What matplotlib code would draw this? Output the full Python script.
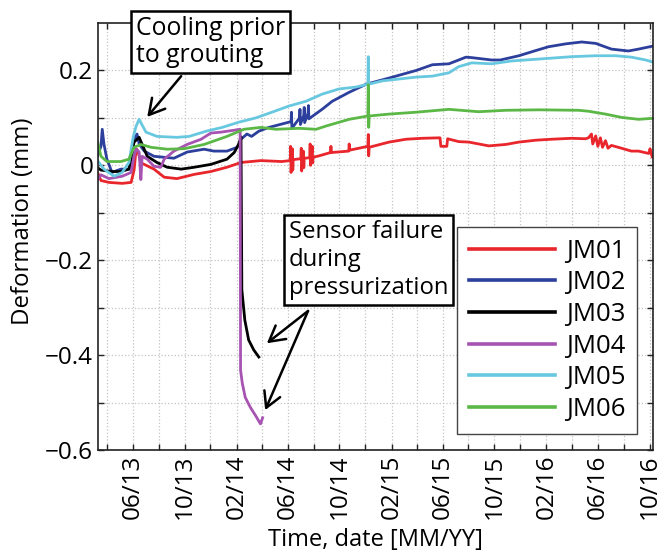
import matplotlib
matplotlib.use("Agg")
import matplotlib.pyplot as plt
import matplotlib.dates as mdates
import matplotlib.ticker as mticker
import pandas as pd

plt.rcParams['font.family'] = ['Open Sans', 'DejaVu Sans']

# ---- joint meter readings (deformation in mm) ----
jm01_dates = ["2013-03-10", "2013-03-18", "2013-04-06", "2013-05-07", "2013-05-28", "2013-06-04",
              "2013-06-09", "2013-06-13", "2013-06-20", "2013-06-28", "2013-07-21", "2013-08-14",
              "2013-09-13", "2013-10-24", "2013-12-02", "2014-01-09", "2014-02-11", "2014-03-30",
              "2014-05-18", "2014-06-07", "2014-06-08", "2014-06-09", "2014-06-12", "2014-06-13",
              "2014-06-14", "2014-07-02", "2014-07-03", "2014-07-04", "2014-07-08", "2014-07-09",
              "2014-07-10", "2014-07-23", "2014-07-24", "2014-07-25", "2014-07-29", "2014-07-30",
              "2014-07-31", "2014-08-14", "2014-09-10", "2014-09-11", "2014-09-12", "2014-10-23",
              "2014-10-24", "2014-10-25", "2014-12-07", "2014-12-08", "2014-12-09", "2014-12-10",
              "2015-01-26", "2015-03-07", "2015-04-14", "2015-05-26", "2015-05-28", "2015-06-11",
              "2015-06-13", "2015-07-09", "2015-08-02", "2015-09-18", "2015-10-28", "2015-11-28",
              "2016-01-07", "2016-02-13", "2016-03-31", "2016-05-03", "2016-05-10", "2016-05-17",
              "2016-05-20", "2016-05-27", "2016-06-01", "2016-06-07", "2016-06-12", "2016-06-19",
              "2016-06-25", "2016-07-03", "2016-07-27", "2016-08-19", "2016-09-05", "2016-09-29",
              "2016-10-02", "2016-10-07"]
jm01_vals = [-0.015, -0.032, -0.036, -0.038, -0.036, -0.010,
             0.035, 0.030, 0.005, 0.002, -0.008, -0.025,
             -0.028, -0.019, -0.013, -0.004, 0.006, 0.010,
             0.008, 0.010, 0.040, -0.015, 0.035, -0.010,
             0.012, 0.014, 0.036, -0.012, 0.030, -0.005,
             0.015, 0.016, 0.045, 0.000, 0.040, 0.005,
             0.017, 0.020, 0.027, 0.040, 0.027, 0.030,
             0.045, 0.032, 0.040, 0.065, 0.020, 0.038,
             0.049, 0.055, 0.057, 0.058, 0.040, 0.040,
             0.056, 0.050, 0.049, 0.041, 0.044, 0.049,
             0.053, 0.055, 0.057, 0.056, 0.058, 0.066,
             0.045, 0.062, 0.040, 0.058, 0.038, 0.052,
             0.036, 0.042, 0.036, 0.030, 0.030, 0.025,
             0.035, 0.018]

jm02_dates = ["2013-03-10", "2013-03-18", "2013-03-21", "2013-03-25", "2013-04-01", "2013-04-13",
              "2013-05-04", "2013-05-23", "2013-05-28", "2013-06-04", "2013-06-11", "2013-06-16",
              "2013-06-28", "2013-07-21", "2013-08-14", "2013-09-06", "2013-10-07", "2013-11-16",
              "2013-12-09", "2014-01-09", "2014-02-02", "2014-02-11", "2014-02-25", "2014-03-08",
              "2014-03-25", "2014-04-18", "2014-05-18", "2014-06-04", "2014-06-09", "2014-06-10",
              "2014-06-11", "2014-06-29", "2014-06-30", "2014-07-01", "2014-07-09", "2014-07-10",
              "2014-07-11", "2014-07-19", "2014-07-20", "2014-07-21", "2014-08-21", "2014-09-14",
              "2014-10-24", "2014-12-03", "2015-01-26", "2015-03-31", "2015-05-08", "2015-06-16",
              "2015-07-09", "2015-07-26", "2015-08-09", "2015-09-25", "2015-10-15", "2015-11-28",
              "2016-01-07", "2016-02-06", "2016-03-17", "2016-04-24", "2016-05-27", "2016-07-03",
              "2016-08-12", "2016-09-05", "2016-10-07"]
jm02_vals = [0.020, 0.040, 0.076, 0.045, 0.013, -0.015,
             -0.008, -0.008, 0.000, 0.055, 0.066, 0.045,
             0.030, 0.019, 0.017, 0.015, 0.028, 0.034,
             0.030, 0.030, 0.038, 0.055, 0.066, 0.061,
             0.072, 0.080, 0.087, 0.091, 0.092, 0.112,
             0.078, 0.100, 0.118, 0.086, 0.106, 0.122,
             0.090, 0.110, 0.126, 0.098, 0.118, 0.135,
             0.154, 0.171, 0.184, 0.200, 0.212, 0.214,
             0.222, 0.228, 0.227, 0.222, 0.222, 0.231,
             0.242, 0.250, 0.256, 0.260, 0.257, 0.245,
             0.241, 0.245, 0.251]

jm03_dates = ["2013-03-10", "2013-03-18", "2013-04-13", "2013-05-04", "2013-05-23", "2013-06-04",
              "2013-06-16", "2013-07-05", "2013-07-28", "2013-08-21", "2013-09-23", "2013-10-24",
              "2013-12-02", "2014-01-09", "2014-01-26", "2014-02-06", "2014-02-11", "2014-02-13",
              "2014-02-20", "2014-03-01", "2014-03-13", "2014-03-25"]
jm03_vals = [-0.005, -0.010, -0.013, -0.013, -0.008, 0.049,
             0.059, 0.019, 0.006, -0.004, -0.008, -0.004,
             0.002, 0.013, 0.027, 0.045, 0.060, -0.262,
             -0.326, -0.368, -0.389, -0.404]

jm04_dates = ["2013-03-10", "2013-03-18", "2013-03-25", "2013-04-06", "2013-05-07", "2013-05-28",
              "2013-06-04", "2013-06-09", "2013-06-16", "2013-06-20", "2013-06-23", "2013-07-05",
              "2013-07-21", "2013-08-06", "2013-08-14", "2013-09-06", "2013-10-07", "2013-11-09",
              "2013-12-02", "2013-12-26", "2014-01-26", "2014-02-09", "2014-02-10", "2014-02-14",
              "2014-02-21", "2014-03-05", "2014-03-17", "2014-03-29", "2014-04-03"]
jm04_vals = [-0.030, -0.020, -0.023, -0.028, -0.023, -0.015,
             0.020, 0.034, 0.028, -0.030, 0.019, 0.013,
             -0.002, -0.004, 0.013, 0.030, 0.044, 0.055,
             0.068, 0.070, 0.074, 0.076, -0.432, -0.459,
             -0.489, -0.510, -0.527, -0.545, -0.532]

jm05_dates = ["2013-03-10", "2013-03-25", "2013-04-18", "2013-05-07", "2013-05-23", "2013-06-02",
              "2013-06-09", "2013-06-16", "2013-06-23", "2013-07-02", "2013-07-28", "2013-09-13",
              "2013-10-12", "2013-11-21", "2013-12-29", "2014-02-06", "2014-03-18", "2014-04-25",
              "2014-06-04", "2014-07-14", "2014-08-21", "2014-09-30", "2014-11-09", "2014-12-07",
              "2014-12-08", "2014-12-09", "2015-01-10", "2015-02-19", "2015-03-31", "2015-05-08",
              "2015-06-16", "2015-07-09", "2015-08-09", "2015-09-25", "2015-11-11", "2016-01-14",
              "2016-03-31", "2016-05-27", "2016-07-13", "2016-08-19", "2016-09-22", "2016-10-07"]
jm05_vals = [0.010, -0.008, -0.023, -0.015, 0.006, 0.060,
             0.083, 0.097, 0.085, 0.070, 0.061, 0.059,
             0.061, 0.072, 0.080, 0.091, 0.100, 0.112,
             0.125, 0.135, 0.150, 0.161, 0.165, 0.171,
             0.229, 0.171, 0.178, 0.182, 0.186, 0.188,
             0.195, 0.208, 0.216, 0.214, 0.220, 0.224,
             0.229, 0.231, 0.231, 0.228, 0.222, 0.218]

jm06_dates = ["2013-03-10", "2013-03-18", "2013-04-01", "2013-05-04", "2013-05-23", "2013-06-04",
              "2013-06-20", "2013-07-14", "2013-08-21", "2013-09-30", "2013-11-16", "2014-01-09",
              "2014-02-18", "2014-03-30", "2014-05-04", "2014-06-28", "2014-08-07", "2014-08-31",
              "2014-10-24", "2014-12-07", "2014-12-08", "2014-12-09", "2014-12-10", "2015-01-26",
              "2015-03-31", "2015-06-16", "2015-08-25", "2015-10-28", "2016-01-14", "2016-04-17",
              "2016-05-10", "2016-06-19", "2016-07-27", "2016-09-05", "2016-10-07"]
jm06_vals = [0.050, 0.019, 0.008, 0.008, 0.013, 0.038,
             0.044, 0.038, 0.034, 0.035, 0.044, 0.061,
             0.076, 0.080, 0.076, 0.078, 0.076, 0.083,
             0.097, 0.104, 0.170, 0.080, 0.104, 0.108,
             0.112, 0.118, 0.113, 0.116, 0.117, 0.116,
             0.114, 0.108, 0.101, 0.097, 0.099]

series_names = ["JM01", "JM02", "JM03", "JM04", "JM05", "JM06"]
series_colors = ["#E8262B", "#2D3F9C", "#000000", "#A653B2", "#68C8E0", "#5CB846"]
series_dates = [jm01_dates, jm02_dates, jm03_dates, jm04_dates, jm05_dates, jm06_dates]
series_vals = [jm01_vals, jm02_vals, jm03_vals, jm04_vals, jm05_vals, jm06_vals]

y_major = [-0.6, -0.4, -0.2, 0.0, 0.2]
y_minor = [-0.5, -0.3, -0.1, 0.1]

FS = 17.5
W, H = 660, 554
fig = plt.figure(figsize=(W / 100, H / 100), dpi=100)
ax = fig.add_axes([98 / W, 1 - 450 / H, (653 - 98) / W, (450 - 23) / H])

lines = []
for name, col, d, v in zip(series_names, series_colors, series_dates, series_vals):
    ln, = ax.plot(pd.to_datetime(d), v, color=col, lw=2.0, label=name, solid_joinstyle='round')
    lines.append(ln)

ax.set_xlim(pd.Timestamp("2013-03-11"), pd.Timestamp("2016-10-09"))
ax.set_ylim(-0.6, 0.3)

ax.xaxis.set_major_locator(mdates.MonthLocator(bymonth=[2, 6, 10]))
ax.xaxis.set_minor_locator(mdates.MonthLocator(bymonth=[4, 8, 12]))
ax.xaxis.set_major_formatter(mdates.DateFormatter("%m/%y"))
ax.yaxis.set_major_locator(mticker.FixedLocator(y_major))
ax.yaxis.set_minor_locator(mticker.FixedLocator(y_minor))
ax.yaxis.set_major_formatter(mticker.FuncFormatter(
    lambda v, p: "0" if abs(v) < 1e-9 else f"{v:.1f}".replace("-", "\u2212")))

ax.grid(which="both", linestyle=":", color="#c4c4c4", linewidth=0.9)
ax.set_axisbelow(True)
ax.tick_params(which="both", direction="in", top=True, right=True, length=4.5,
               width=1.0, labelsize=FS, color="#222222")
for lab in ax.get_xticklabels():
    lab.set_rotation(90)
for s in ax.spines.values():
    s.set_linewidth(1.2)
    s.set_color("#222222")

ax.set_xlabel("Time, date [MM/YY]", fontsize=17, labelpad=6)
ax.set_ylabel("Deformation (mm)", fontsize=17.3)
ax.yaxis.set_label_coords(-0.114, 0.535)

leg = ax.legend(handles=lines, loc="upper left", bbox_to_anchor=(457 / W, 1 - 227 / H),
                bbox_transform=fig.transFigure, borderaxespad=0, fontsize=18.5, frameon=True,
                fancybox=False, edgecolor="#444444", framealpha=1, handlelength=3.35,
                handletextpad=0.45, labelspacing=0.26, borderpad=0.45)
leg.get_frame().set_linewidth(1.0)
for h in leg.get_lines():
    h.set_linewidth(2.6)

box = dict(boxstyle="square,pad=0.2", fc="white", ec="black", lw=1.8)
ax.text(136 / W, 1 - 42 / H, "Cooling prior\nto grouting", transform=fig.transFigure,
        ha="left", va="center", fontsize=17.8, bbox=box, zorder=10, linespacing=1.15)
ax.text(289 / W, 1 - 260 / H, "Sensor failure\nduring\npressurization", transform=fig.transFigure,
        ha="left", va="center", fontsize=17.2, bbox=box, zorder=10, linespacing=1.25)

arrow = dict(arrowstyle="->,head_length=0.5,head_width=0.28", color="black", lw=1.8,
             mutation_scale=22, shrinkA=0, shrinkB=0)
ax.annotate("", xy=(pd.Timestamp("2013-07-05"), 0.102),
            xytext=(pd.Timestamp("2013-09-23"), 0.188), arrowprops=arrow, zorder=11)
ax.annotate("", xy=(pd.Timestamp("2014-04-13"), -0.375),
            xytext=(pd.Timestamp("2014-07-19"), -0.307), arrowprops=arrow, zorder=11)
ax.annotate("", xy=(pd.Timestamp("2014-04-09"), -0.516),
            xytext=(pd.Timestamp("2014-07-19"), -0.307), arrowprops=arrow, zorder=11)

fig.savefig("out.png", dpi=100)
